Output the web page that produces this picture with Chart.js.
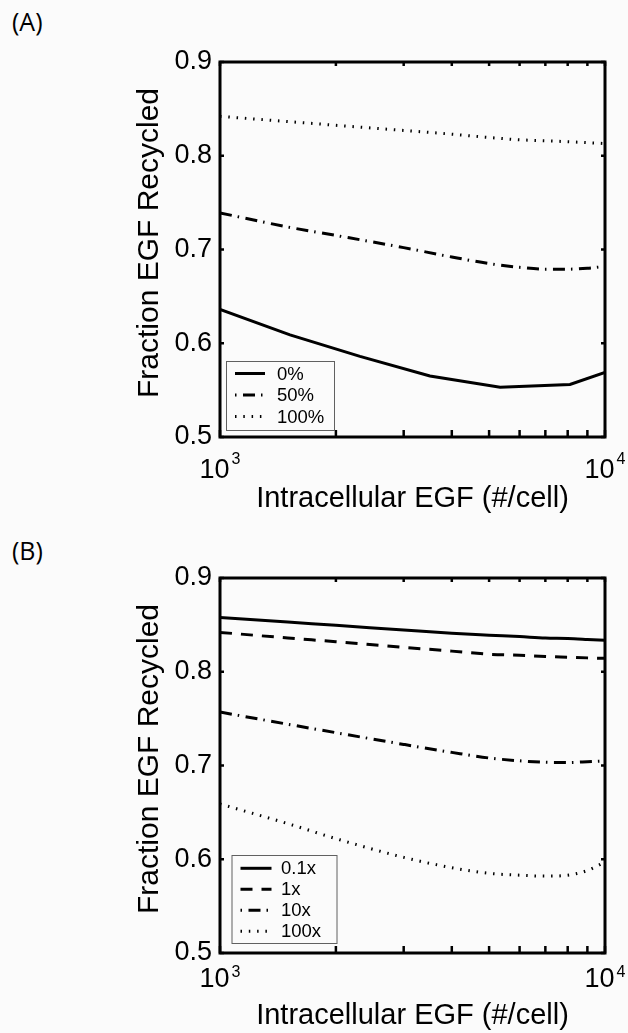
<!DOCTYPE html>
<html>
<head>
<meta charset="utf-8">
<script src="https://cdn.jsdelivr.net/npm/chart.js@4.4.1/dist/chart.umd.min.js"></script>
<style>
  body { margin: 0; background: #fbfbfb; width: 628px; height: 1033px; position: relative; overflow: hidden; }
  canvas { position: absolute; left: 0; }
  #chartA { top: 0; }
  #chartB { top: 516px; }
  .tag { position: absolute; left: 12px; font-family: "Open Sans", sans-serif; font-size: 25px; color: #000; line-height: normal; }
</style>
</head>
<body>
<div class="tag" style="top:4px">(A)</div>
<div class="tag" style="top:533px">(B)</div>
<canvas id="chartA" width="628" height="516"></canvas>
<canvas id="chartB" width="628" height="517"></canvas>
<script>
/* data */
const xTicks = [1000, 2000, 3000, 4000, 5000, 6000, 7000, 8000, 9000, 10000];
const yTicks = [0.5, 0.6, 0.7, 0.8, 0.9];
const yTitle = 'Fraction EGF Recycled';
const xTitle = 'Intracellular EGF (#/cell)';

// panel A: 0% / 50% / 100%
const xA0 = [1000, 1520, 2310, 3510, 5340, 8110, 10000];
const yA0 = [0.636, 0.609, 0.586, 0.565, 0.553, 0.556, 0.569];
const xA = [1000, 1500, 2000, 3000, 4000, 5000, 6000, 7000, 8000, 9000, 10000];
const yA50 = [0.739, 0.724, 0.715, 0.702, 0.692, 0.685, 0.681, 0.679, 0.679, 0.680, 0.682];
const yA100 = [0.842, 0.8365, 0.8325, 0.827, 0.823, 0.8195, 0.817, 0.816, 0.815, 0.814, 0.813];
const labelsA = ['0%', '50%', '100%'];

// panel B: 0.1x / 1x / 10x / 100x
const xB = [1000, 1500, 2000, 3000, 4000, 5000, 6000, 7000, 8000, 9000, 10000];
const yB01 = [0.858, 0.853, 0.8495, 0.8445, 0.841, 0.839, 0.8375, 0.836, 0.8355, 0.8345, 0.8335];
const yB1 = [0.842, 0.836, 0.832, 0.826, 0.822, 0.8187, 0.8175, 0.8163, 0.8155, 0.8148, 0.8143];
const yB10 = [0.757, 0.744, 0.735, 0.7225, 0.714, 0.708, 0.705, 0.7035, 0.7032, 0.704, 0.705];
const yB100 = [0.659, 0.638, 0.622, 0.602, 0.591, 0.585, 0.583, 0.582, 0.583, 0.588, 0.597];
const labelsB = ['0.1x', '1x', '10x', '100x'];

const FONT = '"Liberation Sans", Arial, Helvetica, sans-serif';
const SOLID = [];
const DASH = [12, 9];
const DASHDOT = [12, 6, 1.5, 6.5];
const DOT = [1.5, 6.8];

function pts(xs, ys) {
  return xs.map((x, i) => ({ x: x, y: ys[i] }));
}

function line(label, xs, ys, dash, smooth) {
  return {
    label: label,
    data: pts(xs, ys),
    borderColor: '#000',
    borderWidth: 3,
    borderDash: dash,
    borderCapStyle: 'butt',
    pointRadius: 0,
    tension: smooth ? 0.4 : 0,
    cubicInterpolationMode: smooth ? 'monotone' : 'default',
    fill: false
  };
}

// frame, inside ticks, 10^n labels, y title, legend
const framePlugin = {
  id: 'frame',
  afterDraw(chart, args, o) {
    const ctx = chart.ctx;
    const a = chart.chartArea;
    const xs = chart.scales.x, ys = chart.scales.y;
    ctx.save();
    ctx.setLineDash([]);
    ctx.strokeStyle = '#000';
    ctx.lineWidth = 2.5;
    ctx.beginPath();
    xTicks.forEach(v => {
      const px = xs.getPixelForValue(v);
      ctx.moveTo(px, a.bottom); ctx.lineTo(px, a.bottom - 7);
      ctx.moveTo(px, a.top); ctx.lineTo(px, a.top + 4);
    });
    yTicks.forEach(v => {
      const py = ys.getPixelForValue(v);
      ctx.moveTo(a.left, py); ctx.lineTo(a.left + 4, py);
      ctx.moveTo(a.right, py); ctx.lineTo(a.right - 4, py);
    });
    ctx.stroke();
    ctx.lineWidth = 3;
    ctx.strokeRect(a.left, a.top, a.right - a.left, a.bottom - a.top);

    // x tick labels 10^3 / 10^4
    ctx.fillStyle = '#000';
    ctx.textBaseline = 'alphabetic';
    ctx.textAlign = 'left';
    [[1000, '3'], [10000, '4']].forEach(([v, e]) => {
      const px = xs.getPixelForValue(v);
      ctx.font = '27px ' + FONT;
      const w1 = ctx.measureText('10').width;
      ctx.font = '16px ' + FONT;
      const w2 = ctx.measureText(e).width;
      const x0 = px - (w1 + 2 + w2) / 2;
      ctx.font = '27px ' + FONT;
      ctx.fillText('10', x0, a.bottom + o.tenOff);
      ctx.font = '16px ' + FONT;
      ctx.fillText(e, x0 + w1 + 2, a.bottom + o.supOff);
    });

    // y title
    ctx.save();
    ctx.translate(150, (ys.top + ys.bottom) / 2 - 6.5);
    ctx.rotate(-Math.PI / 2);
    ctx.font = '30px ' + FONT;
    ctx.textAlign = 'center';
    ctx.textBaseline = 'middle';
    ctx.fillText(yTitle, 0, 0);
    ctx.restore();

    // legend
    const L = o.legend;
    const bx = a.left + L.left, by = a.bottom - L.bottom - L.height;
    ctx.lineWidth = 1;
    ctx.strokeStyle = '#606060';
    ctx.strokeRect(bx + 0.5, by + 0.5, L.width, L.height);
    ctx.font = '18.5px ' + FONT;
    ctx.textBaseline = 'middle';
    chart.data.datasets.forEach((ds, i) => {
      const ry = by + L.firstRow + i * L.rowGap;
      ctx.strokeStyle = '#000';
      ctx.lineWidth = 3;
      ctx.lineCap = 'butt';
      ctx.setLineDash(ds.borderDash);
      ctx.lineDashOffset = ds.borderDash === DASHDOT ? 18 : 0;
      ctx.beginPath();
      ctx.moveTo(bx + L.sampleX, ry);
      ctx.lineTo(bx + L.sampleX + L.sampleW, ry);
      ctx.stroke();
      ctx.setLineDash([]);
      ctx.lineDashOffset = 0;
      ctx.fillText(ds.label, bx + L.textX, ry + 1);
    });
    ctx.restore();
  }
};

function makeOptions(xHeight, titleBottom, frameOpts) {
  return {
    responsive: false,
    animation: false,
    layout: { padding: { top: 62, right: 23, left: 0, bottom: 0 } },
    plugins: { legend: { display: false }, tooltip: { enabled: false }, frame: frameOpts },
    scales: {
      x: {
        type: 'logarithmic',
        min: 1000,
        max: 10000,
        grid: { display: false },
        border: { display: false },
        ticks: { display: false },
        title: {
          display: true,
          text: xTitle,
          color: '#000',
          font: { family: FONT, size: 29 },
          padding: { top: 0, bottom: titleBottom }
        },
        afterFit: s => { s.height = xHeight; }
      },
      y: {
        min: 0.5,
        max: 0.9,
        grid: { display: false },
        border: { display: false },
        ticks: {
          stepSize: 0.1,
          color: '#000',
          padding: 0,
          font: { family: FONT, size: 27 },
          callback: v => Number(v).toFixed(1)
        },
        title: { display: false },
        afterFit: s => { s.width = 220; }
      }
    }
  };
}

var chartA = new Chart(document.getElementById('chartA'), {
  type: 'line',
  data: {
    datasets: [
      line(labelsA[0], xA0, yA0, SOLID, false),
      line(labelsA[1], xA, yA50, DASHDOT, true),
      line(labelsA[2], xA, yA100, DOT, true)
    ]
  },
  options: makeOptions(79, 0, {
    tenOff: 41, supOff: 27,
    legend: { left: 6, bottom: 7, width: 108, height: 69, firstRow: 12.5, rowGap: 21.5, sampleX: 9, sampleW: 30, textX: 51 }
  }),
  plugins: [framePlugin]
});

var chartB = new Chart(document.getElementById('chartB'), {
  type: 'line',
  data: {
    datasets: [
      line(labelsB[0], xB, yB01, SOLID, true),
      line(labelsB[1], xB, yB1, DASH, true),
      line(labelsB[2], xB, yB10, DASHDOT, true),
      line(labelsB[3], xB, yB100, DOT, true)
    ]
  },
  options: makeOptions(80, 0, {
    tenOff: 34, supOff: 24,
    legend: { left: 11.5, bottom: 10, width: 105, height: 88, firstRow: 13.3, rowGap: 21, sampleX: 9, sampleW: 31, textX: 49.5 }
  }),
  plugins: [framePlugin]
});
</script>
</body>
</html>
